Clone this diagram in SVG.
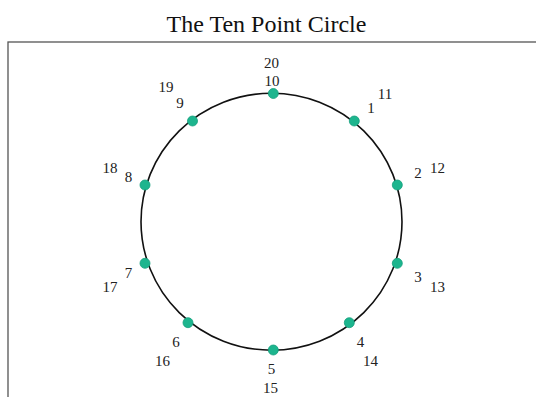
<svg xmlns="http://www.w3.org/2000/svg" width="536" height="397" viewBox="0 0 536 397">
<style>
.title{font-family:"Liberation Serif","Times New Roman",serif;font-size:24px;fill:#111;text-anchor:middle}
.lbl{font-family:"Liberation Serif","Times New Roman",serif;font-size:15px;fill:#222;text-anchor:middle}
.dot{fill:#1db58e;stroke:#14a07c;stroke-width:0.8}
</style>
<rect x="0" y="0" width="536" height="397" fill="#fff"/>
<text class="title" x="266.5" y="32">The Ten Point Circle</text>
<rect x="8" y="42" width="540" height="370" fill="none" stroke="#555" stroke-width="1.3"/>
<g id="connectors">
<ellipse cx="271.5" cy="221.7" rx="130.5" ry="128.5" fill="none" stroke="#111" stroke-width="1.6"/>
</g>
<g id="p10"><circle class="dot" cx="273.3" cy="93.5" r="5"/><text class="lbl" x="272" y="86">10</text><text class="lbl" x="271.5" y="68">20</text></g>
<g id="p1"><circle class="dot" cx="354.3" cy="121" r="5"/><text class="lbl" x="371" y="113">1</text><text class="lbl" x="385" y="99">11</text></g>
<g id="p2"><circle class="dot" cx="397.3" cy="185" r="5"/><text class="lbl" x="418" y="178">2</text><text class="lbl" x="437.5" y="173">12</text></g>
<g id="p3"><circle class="dot" cx="397.3" cy="263.3" r="5"/><text class="lbl" x="418" y="282">3</text><text class="lbl" x="437.5" y="292">13</text></g>
<g id="p4"><circle class="dot" cx="349.3" cy="322.7" r="5"/><text class="lbl" x="360.5" y="347">4</text><text class="lbl" x="370.5" y="366">14</text></g>
<g id="p5"><circle class="dot" cx="273.3" cy="350" r="5"/><text class="lbl" x="271.5" y="374">5</text><text class="lbl" x="270.5" y="393">15</text></g>
<g id="p6"><circle class="dot" cx="188" cy="322.7" r="5"/><text class="lbl" x="176" y="347">6</text><text class="lbl" x="162.5" y="366">16</text></g>
<g id="p7"><circle class="dot" cx="145" cy="263.3" r="5"/><text class="lbl" x="128.5" y="278">7</text><text class="lbl" x="110" y="292">17</text></g>
<g id="p8"><circle class="dot" cx="145" cy="185" r="5"/><text class="lbl" x="128.5" y="182">8</text><text class="lbl" x="110" y="173">18</text></g>
<g id="p9"><circle class="dot" cx="192.5" cy="121" r="5"/><text class="lbl" x="180" y="108">9</text><text class="lbl" x="166" y="92">19</text></g>
</svg>
